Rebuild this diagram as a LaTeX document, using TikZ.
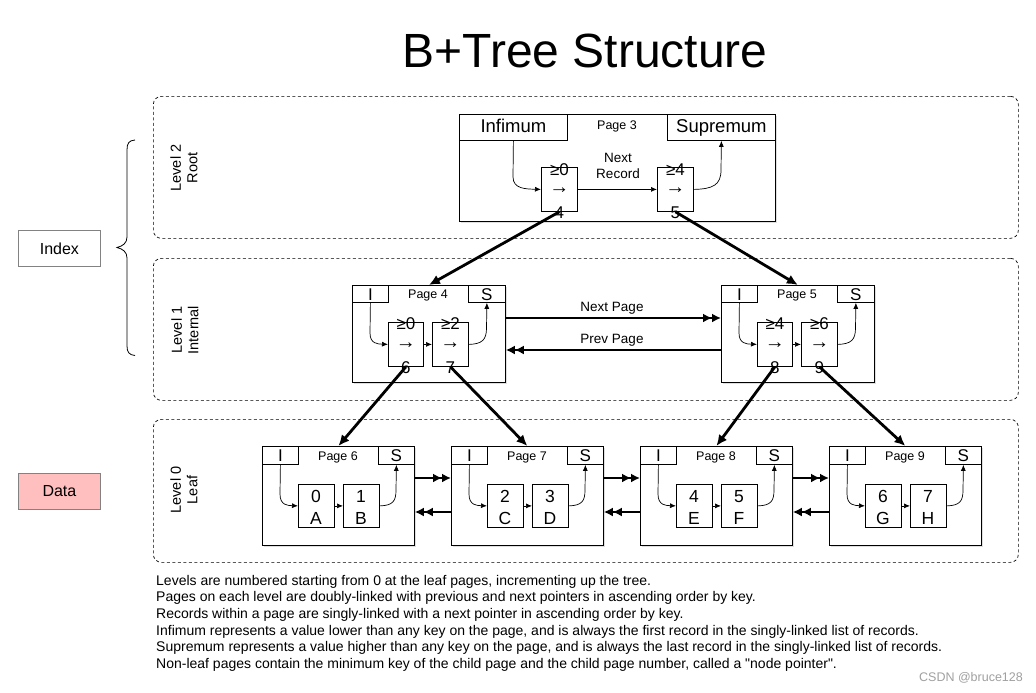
\documentclass[tikz,border=0pt]{standalone}
\usepackage{fontspec}
\setmainfont{Liberation Sans}
\usetikzlibrary{arrows.meta,shadows}
\definecolor{datapink}{RGB}{255,191,191}
\definecolor{boxgray}{RGB}{130,130,130}
\definecolor{wmgray}{RGB}{160,160,160}

\newcommand\intpage[7]{% name, left x, page no, key1, ptr1, key2, ptr2
  \node[pagebox, minimum width=153, minimum height=97] (#1) at (#2,285) {};
  \node[box, hdr, minimum width=36, minimum height=17] (#1i) at (#2,285) {I};
  \node[box, hdr, minimum width=37, minimum height=17] (#1s) at (#2+116,285) {S};
  \node[ptitle] (#1t) at (#2+76,295) {Page #3};
  \node[box, minimum width=35, minimum height=44] (#1a) at (#2+36,322) {};
  \node[box, minimum width=36, minimum height=44] (#1b) at (#2+80,322) {};
  \node[rt] (#1a1) at ([yshift=-2pt]#1a.north) {≥#4};
  \node[ra] (#1a2) at ([yshift=-1pt]#1a.center) {→};
  \node[rt] (#1a3) at ([yshift=-1pt]#1a.south) {#5};
  \node[rt] (#1b1) at ([yshift=-2pt]#1b.north) {≥#6};
  \node[ra] (#1b2) at ([yshift=-1pt]#1b.center) {→};
  \node[rt] (#1b3) at ([yshift=-1pt]#1b.south) {#7};
  \draw[ptr] (#1i.south) -- (#2+18,333) .. controls (#2+18,344) and (#2+26,344) .. (#1a.west);
  \draw[ptr] (#1a.east) -- (#1b.west);
  \draw[ptr] (#1b.east) .. controls (#2+130,344) and (#2+134.5,340) .. (#2+134.5,328) -- (#1s.south);
}

\newcommand\leafpg[7]{% name, left x, page no, key1, val1, key2, val2
  \node[pagebox, minimum width=152, minimum height=99] (#1) at (#2,446) {};
  \node[box, hdr, minimum width=36, minimum height=18] (#1i) at (#2,446) {I};
  \node[box, hdr, minimum width=36, minimum height=18] (#1s) at (#2+116,446) {S};
  \node[ptitle] (#1t) at (#2+76,457) {Page #3};
  \node[box, minimum width=36, minimum height=43] (#1a) at (#2+36,484) {};
  \node[box, minimum width=36, minimum height=43] (#1b) at (#2+81,484) {};
  \node[lt] (#1a1) at (#2+54,496) {#4};
  \node[lt] (#1a2) at (#2+54,518) {#5};
  \node[lt] (#1b1) at (#2+99,496) {#6};
  \node[lt] (#1b2) at (#2+99,518) {#7};
  \draw[ptr] (#1i.south) -- (#2+18,494) .. controls (#2+18,505.5) and (#2+26,505.5) .. (#1a.west);
  \draw[ptr] (#1a.east) -- (#1b.west);
  \draw[ptr] (#1b.east) .. controls (#2+131,505.5) and (#2+134,501) .. (#2+134,490) -- (#1s.south);
}

\begin{document}
\begin{tikzpicture}[x=1pt,y=-1pt,
  box/.style={draw=black, line width=0.8pt, fill=white, inner sep=0pt, anchor=north west},
  pagebox/.style={box, drop shadow={opacity=0.25, shadow xshift=1.5pt, shadow yshift=-1.5pt}},
  hdr/.style={font=\fontsize{17}{18}\selectfont, text height=12.5pt, text depth=0pt},
  ptitle/.style={font=\fontsize{12.5}{14}\selectfont, inner sep=0pt},
  rt/.style={font=\fontsize{17}{18}\selectfont, inner sep=0pt},
  ra/.style={font=\fontsize{20}{20}\selectfont, inner sep=0pt},
  lt/.style={font=\fontsize{17.5}{20}\selectfont, inner sep=0pt, text height=12.5pt, text depth=0pt},
  lvl/.style={draw=black, dash pattern=on 3pt off 2.5pt, rounded corners=8pt, line width=0.7pt, anchor=north west, inner sep=0pt},
  lvltxt/.style={rotate=90, align=center, font=\fontsize{14.5}{16.5}\selectfont},
  ptr/.style={line width=0.7pt, -{Latex[length=6pt,width=5pt]}},
  plink/.style={line width=2.4pt, -{Latex[length=9pt,width=9pt]Latex[length=9pt,width=9pt]}},
  child/.style={line width=2.8pt, -{Latex[length=11pt,width=10pt]}},
  lbl/.style={font=\fontsize{13.5}{16.5}\selectfont, align=center},
  big/.style={box, font=\fontsize{18.5}{20}\selectfont, text height=13.5pt, text depth=4pt, minimum width=108, minimum height=26},
  side/.style={draw=boxgray, line width=0.8pt, minimum width=82, minimum height=36, anchor=north west, font=\fontsize{16}{18}\selectfont}
]
\useasboundingbox (0,0) rectangle (1036,693);
\fill[white] (0,0) rectangle (1036,693);

% title
\node[font=\fontsize{48}{50}\selectfont, anchor=base] (title) at (585,67) {B+Tree Structure};

% level frames
\node[lvl, minimum width=865, minimum height=142] (lv2) at (153,96) {};
\node[lvl, minimum width=865, minimum height=142] (lv1) at (153,258) {};
\node[lvl, minimum width=865, minimum height=143] (lv0) at (153,419) {};
\node[lvltxt] (lv2t) at (184,168) {Level 2\\Root};
\node[lvltxt] (lv1t) at (185,330) {Level 1\\Internal};
\node[lvltxt] (lv0t) at (184,490) {Level 0\\Leaf};

% brace and side labels
\draw[line width=0.8pt] (135,140) .. controls (129,140.5) and (127,143) .. (127,150) -- (127,237)
  .. controls (127,243) and (123,246) .. (117,247.5)
  .. controls (123,249) and (127,252) .. (127,258) -- (127,346)
  .. controls (127,352) and (129,355) .. (135,355.5);
\node[side] (idx) at (18,230) {Index};
\node[side, fill=datapink] (data) at (18,473) {Data};

% root page 3
\node[pagebox, minimum width=316, minimum height=107] (p3) at (459,114) {};
\node[big] (p3i) at (459,114) {Infimum};
\node[big] (p3s) at (667,114) {Supremum};
\node[ptitle] (p3t) at (617,126) {Page 3};
\node[box, minimum width=36, minimum height=44] (p3a) at (541,167) {};
\node[box, minimum width=36, minimum height=44] (p3b) at (657,167) {};
\node[rt] (p3a1) at ([yshift=-3pt]p3a.north) {≥0};
\node[ra] (p3a2) at ([yshift=-1pt]p3a.center) {→};
\node[rt] (p3a3) at ([yshift=-1pt]p3a.south) {4};
\node[rt] (p3b1) at ([yshift=-3pt]p3b.north) {≥4};
\node[ra] (p3b2) at ([yshift=-1pt]p3b.center) {→};
\node[rt] (p3b3) at ([yshift=-1pt]p3b.south) {5};
\node[lbl] (nrec) at (618,166) {Next\\Record};
\draw[ptr] (p3i.south) -- (513,177) .. controls (513,189) and (526,189) .. (p3a.west);
\draw[ptr] (p3a.east) -- (p3b.west);
\draw[ptr] (p3b.east) .. controls (713,189) and (721,185) .. (721,170) -- (p3s.south);

% internal pages
\intpage{p4}{352}{4}{0}{6}{2}{7}
\intpage{p5}{721}{5}{4}{8}{6}{9}
\draw[plink] ([yshift=-33pt]p4.north east) -- ([yshift=-33pt]p5.north west);
\draw[plink] ([yshift=-65pt]p5.north west) -- ([yshift=-65pt]p4.north east);
\node[lbl] (npg) at (612,308) {Next Page};
\node[lbl] (ppg) at (612,340) {Prev Page};

% leaf pages
\leafpg{p6}{262}{6}{0}{A}{1}{B}
\leafpg{p7}{451}{7}{2}{C}{3}{D}
\leafpg{p8}{640}{8}{4}{E}{5}{F}
\leafpg{p9}{829}{9}{6}{G}{7}{H}
\foreach \l/\r in {p6/p7, p7/p8, p8/p9} {
  \draw[plink] ([yshift=-32pt]\l.north east) -- ([yshift=-32pt]\r.north west);
  \draw[plink] ([yshift=-66pt]\r.north west) -- ([yshift=-66pt]\l.north east);
}

% node pointers
\draw[child] (p3a.south) -- (p4.north);
\draw[child] (p3b.south) -- (p5.north);
\draw[child] (p4a.south) -- (p6.north);
\draw[child] (p4b.south) -- (p7.north);
\draw[child] (p5a.south) -- (p8.north);
\draw[child] (p5b.south) -- (p9.north);

% notes
\node[anchor=north west, align=left, inner sep=0pt, font=\fontsize{14}{16.6}\selectfont] (notes) at (156,575) {%
Levels are numbered starting from 0 at the leaf pages, incrementing up the tree.\\
Pages on each level are doubly-linked with previous and next pointers in ascending order by key.\\
Records within a page are singly-linked with a next pointer in ascending order by key.\\
Infimum represents a value lower than any key on the page, and is always the first record in the singly-linked list of records.\\
Supremum represents a value higher than any key on the page, and is always the last record in the singly-linked list of records.\\
Non-leaf pages contain the minimum key of the child page and the child page number, called a \textquotedbl node pointer\textquotedbl.};

\node[text=wmgray, font=\fontsize{12.5}{14}\selectfont] (wm) at (971,678) {CSDN @bruce128};
\end{tikzpicture}
\end{document}
